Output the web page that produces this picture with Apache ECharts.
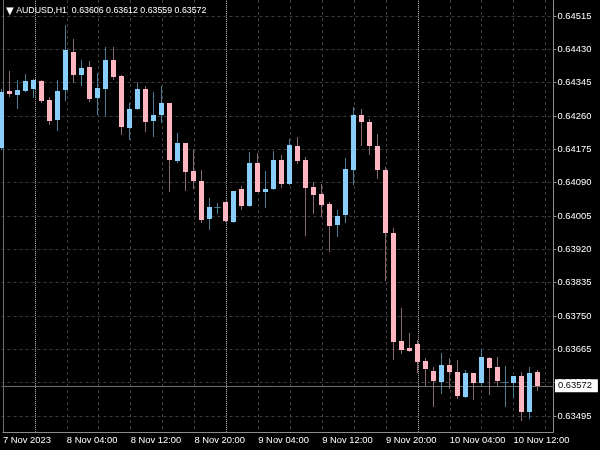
<!DOCTYPE html>
<html>
<head>
<meta charset="utf-8">
<script src="https://cdn.jsdelivr.net/npm/echarts@6/dist/echarts.min.js"></script>
<style>
html,body{margin:0;padding:0;background:#000;}
#c{width:600px;height:450px;}
</style>
</head>
<body>
<div id="c"></div>
<script>
// ---- data (hourly bars, first bar = 7 Nov 2023 20:00) ----
var opens  = [0.64178,0.64324,0.64314,0.64325,0.64330,0.64349,0.64300,0.64250,0.64327,0.64424,
              0.64364,0.64384,0.64305,0.64330,0.64403,0.64362,0.64229,0.64277,0.64328,0.64248,
              0.64263,0.64292,0.64146,0.64190,0.64120,0.64094,0.63997,0.64027,0.64040,0.63990,
              0.64073,0.64030,0.64139,0.64067,0.64073,0.64147,0.64086,0.64184,0.64147,0.64078,
              0.64062,0.64035,0.63983,0.64007,0.64123,0.64262,0.64244,0.64184,0.64123,0.63961,
              0.63685,0.63668,0.63678,0.63636,0.63611,0.63581,0.63626,0.63608,0.63544,0.63604,
              0.63578,0.63643,0.63619,0.63581,0.63580,0.63596,0.63506,0.63606];
var highs  = [0.64330,0.64375,0.64352,0.64367,0.64355,0.64352,0.64308,0.64352,0.64492,0.64456,
              0.64403,0.64400,0.64370,0.64435,0.64435,0.64365,0.64292,0.64347,0.64336,0.64322,
              0.64336,0.64294,0.64217,0.64191,0.64176,0.64122,0.64050,0.64037,0.64041,0.64070,
              0.64082,0.64168,0.64165,0.64120,0.64170,0.64161,0.64201,0.64207,0.64156,0.64091,
              0.64087,0.64040,0.64020,0.64152,0.64284,0.64277,0.64252,0.64213,0.64131,0.63974,
              0.63770,0.63706,0.63689,0.63642,0.63621,0.63655,0.63642,0.63638,0.63612,0.63605,
              0.63665,0.63646,0.63646,0.63622,0.63598,0.63607,0.63619,0.63612];
var lows   = [0.64173,0.64308,0.64277,0.64322,0.64305,0.64292,0.64238,0.64223,0.64299,0.64343,
              0.64337,0.64296,0.64263,0.64261,0.64352,0.64212,0.64199,0.64275,0.64220,0.64206,
              0.64241,0.64067,0.64139,0.64070,0.64074,0.63986,0.63969,0.64010,0.63990,0.63988,
              0.64020,0.64027,0.64066,0.64026,0.64071,0.64076,0.64084,0.64137,0.63955,0.64010,
              0.64003,0.63914,0.63952,0.63986,0.64084,0.64184,0.64161,0.64099,0.63839,0.63638,
              0.63653,0.63659,0.63604,0.63568,0.63517,0.63550,0.63563,0.63538,0.63540,0.63536,
              0.63571,0.63548,0.63570,0.63519,0.63542,0.63483,0.63487,0.63559];
var closes = [0.64322,0.64316,0.64326,0.64348,0.64351,0.64299,0.64247,0.64324,0.64428,0.64365,
              0.64382,0.64303,0.64331,0.64403,0.64360,0.64231,0.64278,0.64329,0.64245,0.64263,
              0.64292,0.64148,0.64192,0.64118,0.64095,0.63995,0.64029,0.64028,0.63993,0.64069,
              0.64031,0.64140,0.64067,0.64074,0.64147,0.64086,0.64186,0.64145,0.64077,0.64059,
              0.64032,0.63980,0.64005,0.64124,0.64262,0.64245,0.64183,0.64122,0.63962,0.63683,
              0.63664,0.63661,0.63632,0.63614,0.63584,0.63625,0.63606,0.63545,0.63605,0.63579,
              0.63645,0.63617,0.63585,0.63582,0.63597,0.63506,0.63605,0.63572];
var tickLabels = ['7 Nov 2023','8 Nov 04:00','8 Nov 12:00','8 Nov 20:00','9 Nov 04:00',
                  '9 Nov 12:00','9 Nov 20:00','10 Nov 04:00','10 Nov 12:00'];
var daySeparators = [4, 28, 52];
var lastPrice = 0.63572;
var symbolName = 'AUDUSD,H1';
var ohlcText = '0.63606 0.63612 0.63559 0.63572';

// categories: hourly slots (70 slots, the last two are empty chart shift)
var categories = [];
(function(){
  var d = 7, h = 20;
  for (var i = 0; i < 70; i++) {
    categories.push(d + ' Nov ' + (h < 10 ? '0' : '') + h + ':00');
    h++; if (h === 24) { h = 0; d++; }
  }
})();

var candleData = opens.map(function(o, i){ return [i, o, closes[i], lows[i], highs[i]]; });

var BULL = '#87cefa', BEAR = '#ffb6c1', BULL_W = '#4d7a95', BEAR_W = '#8a6870';
var FONT = 'Liberation Sans';
var GRID_L = 1.5, GRID_R = 46.5;

var chart = echarts.init(document.getElementById('c'), null, {renderer: 'canvas'});
chart.setOption({
  backgroundColor: '#000000',
  animation: false,
  title: {
    text: '{t|\u25BC} ' + symbolName + '  ' + ohlcText, left: 1, top: 1,
    textStyle: {color: '#ffffff', fontSize: 8.8, fontWeight: 'normal', fontFamily: FONT,
                rich: {t: {fontSize: 10, color: '#ffffff', fontFamily: 'DejaVu Sans'}}}
  },
  grid: [
    {left: GRID_L, right: GRID_R, top: 16, bottom: 0.667},
    {left: GRID_L, right: GRID_R, top: 0, bottom: 18}
  ],
  xAxis: [
    {type: 'category', gridIndex: 0, data: categories, boundaryGap: false, show: false},
    {type: 'category', gridIndex: 1, data: categories, boundaryGap: false,
     axisLine: {show: true, lineStyle: {color: '#8c8c8c', width: 1}},
     axisTick: {show: false},
     splitLine: {show: true, interval: function(i){ return i % 4 === 0 && i > 0; },
                 lineStyle: {color: '#3c3c3c', type: [3, 3], width: 1}},
     axisLabel: {show: true, color: '#ffffff', fontSize: 9.4, fontFamily: FONT, align: 'left', margin: 4,
                 interval: function(i){ return i % 8 === 0; },
                 formatter: function(v, i){ return (i % 8 === 0 && tickLabels[i / 8]) ? tickLabels[i / 8] : ''; }}
    }
  ],
  yAxis: [
    {type: 'value', gridIndex: 0, position: 'right', min: 0.63410, max: 0.64515, interval: 0.00085,
     axisLine: {show: false},
     axisTick: {show: true, length: 3, lineStyle: {color: '#8c8c8c'}},
     splitLine: {show: true, showMinLine: false, showMaxLine: true,
                 lineStyle: {color: '#3c3c3c', type: [3, 3], width: 1}},
     axisLabel: {color: '#ffffff', fontSize: 9.4, fontFamily: FONT, margin: 4,
                 showMinLabel: false, showMaxLabel: true,
                 formatter: function(v){ return v < 0.6345 ? '' : v.toFixed(5); }}
    },
    {type: 'value', gridIndex: 1, position: 'right', min: 0, max: 1,
     axisLine: {show: true, lineStyle: {color: '#8c8c8c', width: 1}},
     axisTick: {show: false}, axisLabel: {show: false}, splitLine: {show: false}
    },
    {type: 'value', gridIndex: 1, position: 'left', min: 0, max: 1,
     axisLine: {show: true, lineStyle: {color: '#6e6e6e', width: 1}},
     axisTick: {show: false}, axisLabel: {show: false}, splitLine: {show: false}
    }
  ],
  series: [
    {
      type: 'line', xAxisIndex: 1, yAxisIndex: 1, data: [], silent: true,
      markLine: {
        silent: true, symbol: ['none', 'none'], label: {show: false},
        lineStyle: {color: '#9a9a9a', type: [1, 1], width: 1},
        data: daySeparators.map(function(i){ return {xAxis: categories[i]}; })
      }
    },
    {
      type: 'line', xAxisIndex: 0, yAxisIndex: 0, data: [], silent: true, z: 6,
      markLine: {
        silent: true, symbol: ['none', 'none'],
        lineStyle: {color: '#6e6e6e', type: 'solid', width: 1},
        label: {show: true, position: 'end', distance: 1.5, formatter: lastPrice.toFixed(5),
                color: '#000000', backgroundColor: '#ffffff', padding: [2, 6, 2, 3],
                fontSize: 9.4, fontFamily: FONT},
        data: [[{coord: [categories[0], lastPrice]}, {coord: [categories[categories.length - 1], lastPrice]}]]
      }
    },
    {
      type: 'custom', xAxisIndex: 0, yAxisIndex: 0, data: candleData,
      encode: {x: 0, y: [1, 2, 3, 4]},
      renderItem: function(params, api){
        var i = api.value(0), o = api.value(1), c = api.value(2), l = api.value(3), h = api.value(4);
        var pO = api.coord([i, o]), pC = api.coord([i, c]), pL = api.coord([i, l]), pH = api.coord([i, h]);
        var x = pO[0];
        var bull = c >= o;
        var top = Math.round(Math.min(pO[1], pC[1])), bot = Math.round(Math.max(pO[1], pC[1]));
        var wick = bull ? BULL_W : BEAR_W;
        var kids = [{type: 'line', shape: {x1: x, y1: Math.round(pH[1]), x2: x, y2: Math.round(pL[1])},
                     style: {stroke: wick, lineWidth: 1}}];
        if (bot - top < 1) {
          kids.push({type: 'line', shape: {x1: x - 3, y1: top + 0.5, x2: x + 3, y2: top + 0.5},
                     style: {stroke: wick, lineWidth: 1}});
        } else {
          kids.push({type: 'rect', shape: {x: x - 2.5, y: top, width: 5, height: bot - top},
                     style: {fill: bull ? BULL : BEAR}});
        }
        return {type: 'group', children: kids};
      },
      z: 5
    }
  ]
});
</script>
</body>
</html>
